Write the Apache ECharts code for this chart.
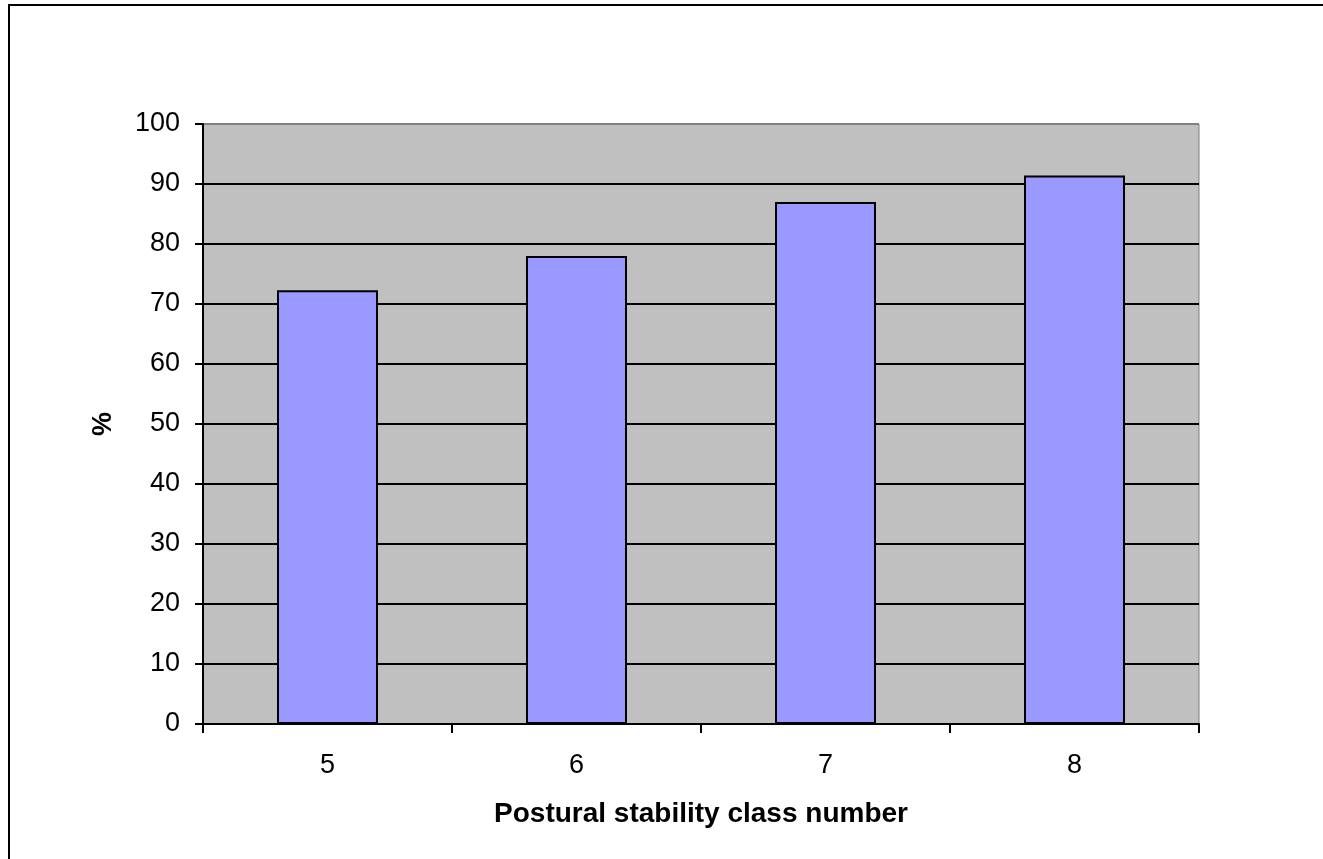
<!DOCTYPE html>
<html>
<head>
<meta charset="utf-8">
<script src="https://cdn.jsdelivr.net/npm/echarts@6/dist/echarts.min.js"></script>
<style>
  html, body { margin: 0; padding: 0; background: #fff; }
  #main { width: 1323px; height: 859px; position: relative; }
  #frame { position: absolute; left: 8px; top: 4px; right: 0; bottom: 0;
           border-top: 2px solid #000; border-left: 2px solid #000; pointer-events: none; }
  #chart { position: absolute; left: 0; top: 0; width: 1323px; height: 859px; }
</style>
</head>
<body>
<div id="main">
  <div id="chart"></div>
  <div id="frame"></div>
</div>
<script>
let classes = ['5', '6', '7', '8'];
let percent = [72.3, 78.0, 87.0, 91.4];

let chart = echarts.init(document.getElementById('chart'), null, {renderer: 'canvas'});
let font = 'Liberation Sans, Arial, sans-serif';

// gridlines black, the one at 100 sits on the grey plot border
let gridColors = ['#000', '#000', '#000', '#000', '#000', '#000', '#000', '#000', '#000', '#000', '#808080'];

let option = {
    animation: false,
    grid: {
        left: 203, right: 124, top: 124, bottom: 135,
        show: true,
        backgroundColor: '#C0C0C0',
        borderColor: '#808080',
        borderWidth: 1
    },
    xAxis: {
        type: 'category',
        data: classes,
        name: 'Postural stability class number',
        nameLocation: 'middle',
        nameGap: 76,
        nameTextStyle: {fontFamily: font, fontSize: 28, fontWeight: 'bold', color: '#000'},
        axisLine: {lineStyle: {color: '#000', width: 2}},
        axisTick: {show: true, length: 9, lineStyle: {color: '#000', width: 2}},
        axisLabel: {fontFamily: font, fontSize: 27, color: '#000', margin: 28}
    },
    yAxis: {
        type: 'value',
        min: 0,
        max: 100,
        interval: 10,
        name: '%',
        nameLocation: 'middle',
        nameGap: 86,
        nameRotate: 90,
        nameTextStyle: {fontFamily: font, fontSize: 27, fontWeight: 'bold', color: '#000'},
        axisLine: {show: true, lineStyle: {color: '#000', width: 2}},
        axisTick: {show: true, length: 8, lineStyle: {color: '#000', width: 2}},
        axisLabel: {fontFamily: font, fontSize: 27, color: '#000', margin: 23},
        splitLine: {show: true, lineStyle: {color: gridColors, width: 2}}
    },
    series: [{
        type: 'bar',
        data: percent,
        barWidth: 101,
        itemStyle: {color: '#9999FF', borderColor: '#000', borderWidth: 2}
    }]
};
chart.setOption(option);
</script>
</body>
</html>
